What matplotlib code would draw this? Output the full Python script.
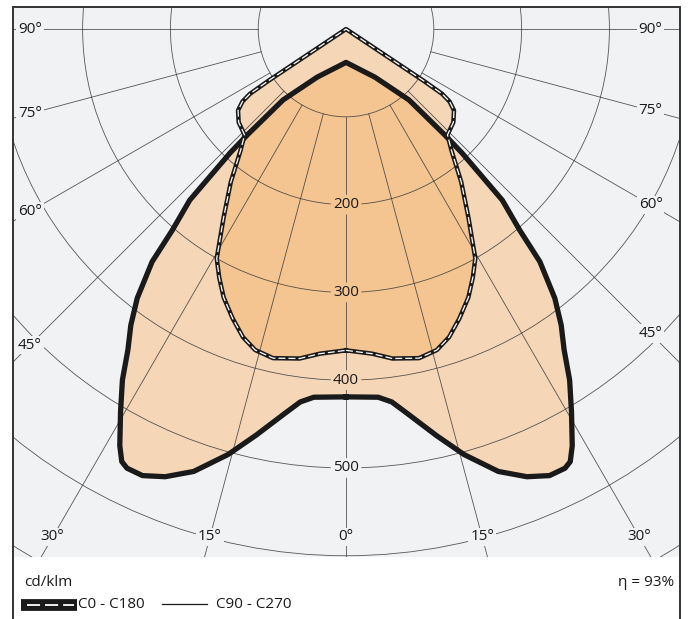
import numpy as np
import matplotlib.pyplot as plt
from matplotlib.lines import Line2D
from matplotlib.patches import Polygon, Circle, Rectangle
from matplotlib.path import Path

plt.rcParams['font.family'] = ['Open Sans', 'DejaVu Sans']
plt.rcParams['lines.scale_dashes'] = False

# C0 - C180 half curve: angle from nadir (deg) and intensity (cd/klm)
c0_ang = [0, 4.6, 8, 12.5, 15.8, 18.5, 21.4, 24.5, 27, 29.4, 33, 37, 41, 43.8, 49, 53, 55, 56, 56.3, 56.5]
c0_val = [366, 371, 379, 384, 380, 370, 354, 336, 318, 300, 256, 218, 183, 167, 162, 154, 144, 132, 106, 0]

# C90 - C270 half curve
c90_ang = [0, 5, 7, 9, 12.5, 15.5, 19, 22, 24.5, 26.5, 27.4, 28.5, 30.5, 32.5, 34.2, 36, 37.8,
           39.8, 40.8, 42.4, 43.1, 43, 41.6, 31, 0]
c90_val = [419, 421, 428, 443, 474, 503, 533, 550, 559, 559, 555, 540, 506, 474, 442, 417, 388,
           345, 303, 264, 193, 165, 108, 64, 38]

rings = [100, 200, 300, 400, 500, 600, 700]
ring_labels = [200, 300, 400, 500]
angles = [0, 15, 30, 45, 60, 75, 90]
eta = 93

bg = '#f1f2f4'
light = '#f5d7b8'
dark = '#f4c590'
ink = '#1a1a1a'
grid_c = '#3a3a3a'

W, H = 691, 619
def fx(px):
    return px / W
def fy(py):
    return 1 - py / H


def closed_curve(ang, val):
    a = np.radians(ang)
    v = np.array(val, dtype=float)
    xr, yr = v * np.sin(a), -v * np.cos(a)
    x = np.concatenate([xr, -xr[::-1]])
    y = np.concatenate([yr, yr[::-1]])
    return x, y


fig = plt.figure(figsize=(W / 100, H / 100), dpi=100)
ax = fig.add_axes([fx(13), fy(557), (680 - 13) / W, (557 - 7) / H])
ax.set_facecolor(bg)
ax.set_xlim(-379.3, 380.4)
ax.set_ylim(-601.4, 25.1)
ax.set_xticks([])
ax.set_yticks([])
for s in ax.spines.values():
    s.set_visible(False)

x0, y0 = closed_curve(c0_ang, c0_val)
x9, y9 = closed_curve(c90_ang, c90_val)

# fills: light where one curve covers, dark where both overlap
ax.fill(x9, y9, color=light, lw=0, zorder=1)
ax.fill(x0, y0, color=light, lw=0, zorder=1)
clip = Polygon(np.column_stack([x9, y9]), closed=True, transform=ax.transData)
ov = ax.fill(x0, y0, color=dark, lw=0, zorder=1.1)[0]
ov.set_clip_path(clip)

# polar grid
for r in rings:
    ax.add_patch(Circle((0, 0), r, fill=False, ec=grid_c, lw=0.6, alpha=0.85, zorder=2))
for a in angles:
    t = np.radians(a)
    for s in ([1] if a == 0 else [1, -1]):
        ax.plot([s * 100 * np.sin(t), s * 1000 * np.sin(t)],
                [-100 * np.cos(t), -1000 * np.cos(t)],
                color=grid_c, lw=0.6, alpha=0.85, zorder=2)

# angle labels near the frame
bot_y = -578.6
for a in angles:
    t = np.radians(a)
    for s in ([1] if a == 0 else [1, -1]):
        side_x = 360 if s < 0 else 347
        if a > 0 and side_x / np.tan(t) < -bot_y:
            lx, ly = s * side_x, -side_x / np.tan(t)
        else:
            lx, ly = s * (-bot_y) * np.tan(t), bot_y
        ax.text(lx, ly, f'{a}°', ha='center', va='center', fontsize=11, color=ink, zorder=3,
                bbox=dict(boxstyle='square,pad=0.12', fc=bg, ec='none'))

# intensity labels on the 0° axis
p0 = Path(np.column_stack([x0, y0]))
p9 = Path(np.column_stack([x9, y9]))
for r in ring_labels:
    n = int(p0.contains_point((0, -r))) + int(p9.contains_point((0, -r)))
    fc = [bg, light, dark][n]
    ax.text(0, -r, str(r), ha='center', va='center', fontsize=11, color=ink, zorder=3,
            bbox=dict(boxstyle='round,pad=0.15', fc=fc, ec='none'))

# curves
ax.plot(x9, y9, color=ink, lw=3.8, solid_joinstyle='round', zorder=4)
ax.plot(x0, y0, color=ink, lw=3.2, solid_joinstyle='round', zorder=4)
ax.plot(x0, y0, color='white', lw=0.9, linestyle=(0, (5, 2.2)), zorder=5)

# outer frame
fig.add_artist(Rectangle((fx(13), -0.02), (680 - 13) / W, fy(7) + 0.02,
                         transform=fig.transFigure, fill=False, ec='#333333', lw=1.4))

# legend area
fig.text(fx(24), fy(583), 'cd/klm', ha='left', va='center', fontsize=11, color=ink)
fig.text(fx(674), fy(582), f'η = {eta}%', ha='right', va='center', fontsize=11, color=ink)
fig.add_artist(Line2D([fx(21), fx(77)], [fy(605), fy(605)], color=ink, lw=8.5,
                      solid_capstyle='butt', transform=fig.transFigure))
fig.add_artist(Line2D([fx(27), fx(74)], [fy(605), fy(605)], color='white', lw=1.3,
                      linestyle=(0, (9.4, 3.6)), solid_capstyle='butt', dash_capstyle='butt',
                      transform=fig.transFigure))
fig.text(fx(78), fy(605), 'C0 - C180', ha='left', va='center', fontsize=11, color=ink)
fig.add_artist(Line2D([fx(162), fx(207)], [fy(604), fy(604)], color=ink, lw=0.9,
                      transform=fig.transFigure))
fig.text(fx(216), fy(605), 'C90 - C270', ha='left', va='center', fontsize=11, color=ink)

fig.savefig('out.png', dpi=100)
